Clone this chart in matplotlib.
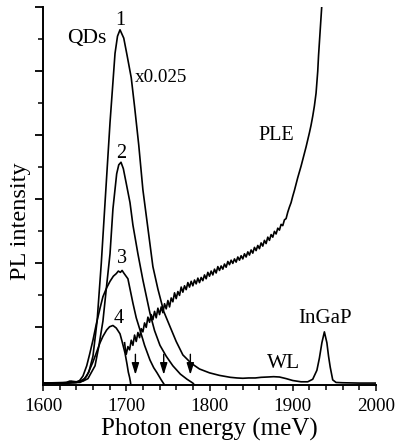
import matplotlib
matplotlib.use("Agg")
import matplotlib.pyplot as plt
from matplotlib.ticker import FixedLocator, MultipleLocator, NullFormatter

plt.rcParams['font.family'] = ['Liberation Serif', 'DejaVu Serif']

# ---- data (photon energy in meV, PL intensity in arb. units) ----
c1_E = [1600, 1620, 1630, 1634, 1640, 1646, 1650, 1655, 1660, 1665, 1670, 1675, 1680.5, 1686.5,
        1689.5, 1692.5, 1697, 1701, 1706, 1710, 1715, 1720, 1725, 1732, 1738, 1745, 1752, 1760,
        1768, 1778, 1788, 1800, 1812, 1825, 1833, 1840, 1847, 1855, 1862, 1870, 1877, 1884, 1892,
        1900, 1910, 1918, 1924, 1929, 1932, 1935, 1938, 1941, 1943, 1945, 1948, 1952, 1960, 1980, 2000]
c1_I = [0.03, 0.03, 0.04, 0.06, 0.05, 0.07, 0.10, 0.20, 0.45, 1.00, 1.90, 2.95, 4.10, 5.18,
        5.45, 5.55, 5.42, 5.15, 4.80, 4.35, 3.75, 3.05, 2.55, 1.85, 1.50, 1.15, 0.93, 0.68,
        0.47, 0.34, 0.25, 0.19, 0.15, 0.12, 0.11, 0.105, 0.11, 0.11, 0.12, 0.125, 0.13, 0.125, 0.10,
        0.07, 0.05, 0.05, 0.09, 0.23, 0.42, 0.66, 0.83, 0.66, 0.45, 0.28, 0.08, 0.04, 0.035, 0.03, 0.03]

c2_E = [1600, 1630, 1640, 1648, 1654, 1662.5, 1667, 1672, 1676, 1680.5, 1684, 1688.5, 1691,
        1693.7, 1696.5, 1700, 1704.5, 1708, 1714, 1720, 1728.5, 1734, 1740.5, 1748, 1756, 1765,
        1773, 1780, 1782]
c2_I = [0.03, 0.03, 0.04, 0.06, 0.10, 0.30, 0.60, 1.00, 1.50, 2.05, 2.75, 3.30, 3.44,
        3.48, 3.38, 3.15, 2.85, 2.50, 2.05, 1.64, 1.12, 0.85, 0.62, 0.45, 0.30, 0.17,
        0.09, 0.03, 0.0]

c3_E = [1600, 1630, 1640, 1644, 1648, 1652.5, 1656, 1660, 1664, 1668.5, 1672, 1676.5, 1680.5,
        1684.5, 1688, 1690.5, 1693, 1695, 1697, 1702, 1708, 1712, 1716.5, 1722, 1728.5, 1733,
        1737, 1742, 1745, 1746]
c3_I = [0.03, 0.03, 0.04, 0.07, 0.14, 0.30, 0.48, 0.70, 0.95, 1.20, 1.38, 1.52, 1.62,
        1.70, 1.74, 1.78, 1.76, 1.79, 1.75, 1.66, 1.28, 1.05, 0.86, 0.62, 0.39, 0.27,
        0.19, 0.08, 0.02, 0.0]

c4_E = [1600, 1628, 1632, 1637, 1644.4, 1648, 1652.5, 1656, 1660, 1664, 1668.5, 1672, 1676.5,
        1680, 1684, 1688, 1692.5, 1695, 1698.5, 1701, 1702.5, 1704, 1705, 1705.5]
c4_I = [0.03, 0.04, 0.06, 0.04, 0.04, 0.07, 0.14, 0.24, 0.36, 0.50, 0.66, 0.76, 0.86,
        0.91, 0.93, 0.89, 0.80, 0.68, 0.50, 0.32, 0.20, 0.12, 0.05, 0.0]

ple_E = [1698, 1699, 1700, 1702, 1704, 1706, 1708, 1710, 1712, 1714, 1716, 1718, 1720, 1722,
         1724, 1726, 1728, 1730, 1732, 1734, 1736, 1738, 1740, 1742, 1744, 1746, 1748, 1750,
         1752, 1754, 1756, 1758, 1760, 1762, 1764, 1766, 1768, 1770, 1772, 1774, 1776, 1778,
         1780, 1782, 1784, 1786, 1788, 1790, 1792, 1794, 1796, 1798, 1800, 1802, 1804, 1806,
         1808, 1810, 1812, 1814, 1816, 1818, 1820, 1822, 1824, 1826, 1828, 1830, 1832, 1834,
         1836, 1838, 1840, 1842, 1844, 1846, 1848, 1850, 1852, 1854, 1856, 1858, 1860, 1862,
         1864, 1866, 1868, 1870, 1872, 1874, 1876, 1878, 1880, 1882, 1884, 1886, 1888, 1890,
         1892, 1894, 1896, 1898, 1900, 1902, 1904, 1906, 1908, 1910, 1912, 1914, 1916, 1918,
         1920, 1922, 1924, 1926, 1928, 1930, 1931, 1932, 1933, 1934, 1935, 1936]
ple_I = [0.66, 0.55, 0.48, 0.60, 0.55, 0.70, 0.62, 0.78, 0.68, 0.82, 0.74, 0.88, 0.83, 0.97,
         0.90, 1.06, 0.98, 1.10, 1.02, 1.15, 1.05, 1.20, 1.10, 1.22, 1.13, 1.27, 1.19, 1.32,
         1.22, 1.36, 1.30, 1.44, 1.35, 1.46, 1.40, 1.53, 1.45, 1.55, 1.49, 1.60, 1.53, 1.62,
         1.55, 1.64, 1.58, 1.67, 1.60, 1.68, 1.63, 1.72, 1.66, 1.76, 1.70, 1.78, 1.72, 1.81,
         1.75, 1.85, 1.79, 1.86, 1.81, 1.89, 1.84, 1.93, 1.88, 1.95, 1.90, 1.97, 1.92, 2.00,
         1.95, 2.02, 1.97, 2.05, 2.00, 2.08, 2.03, 2.11, 2.06, 2.15, 2.10, 2.18, 2.13, 2.22,
         2.17, 2.26, 2.21, 2.31, 2.26, 2.35, 2.31, 2.40, 2.36, 2.45, 2.42, 2.51, 2.49, 2.58,
         2.60, 2.70, 2.78, 2.85, 2.95, 3.04, 3.14, 3.24, 3.33, 3.42, 3.52, 3.62, 3.72, 3.83,
         3.94, 4.06, 4.20, 4.36, 4.56, 4.90, 5.15, 5.35, 5.55, 5.75, 5.95, 6.20]

arrow_E = [1711, 1745, 1777]

x_ticks = [1600, 1700, 1800, 1900, 2000]

# ---- figure ----
fig = plt.figure(figsize=(3.96, 4.45), dpi=100)
ax = fig.add_axes([43 / 396, 60 / 445, 333 / 396, 378 / 445])

lw = 1.2
for E, I in [(c1_E, c1_I), (c2_E, c2_I), (c3_E, c3_I), (c4_E, c4_I), (ple_E, ple_I)]:
    ax.plot(E, I, color='black', lw=lw, solid_joinstyle='round')

ytop = 5.906
ax.set_xlim(1600, 2000)
ax.set_ylim(0, ytop)

for s in ['top', 'right']:
    ax.spines[s].set_visible(False)
for s in ['left', 'bottom']:
    ax.spines[s].set_linewidth(1.4)

ax.xaxis.set_major_locator(FixedLocator(x_ticks))
ax.xaxis.set_minor_locator(MultipleLocator(20))
ax.set_xticklabels([str(t) for t in x_ticks], fontsize=13.8)
ax.yaxis.set_major_locator(FixedLocator([ytop - k for k in range(6)]))
ax.yaxis.set_minor_locator(FixedLocator([ytop - 0.5 - k for k in range(6)]))
ax.yaxis.set_major_formatter(NullFormatter())
ax.tick_params(axis='x', which='major', direction='out', length=4.5, width=1.1, pad=5)
ax.tick_params(axis='x', which='minor', direction='out', length=3.6, width=1.1)
ax.tick_params(axis='y', which='major', direction='out', length=5.8, width=1.3)
ax.tick_params(axis='y', which='minor', direction='out', length=3.6, width=1.1)

ax.set_xlabel('Photon energy (meV)', fontsize=18, labelpad=2)
ax.set_ylabel('PL intensity', fontsize=17.5)
ax.yaxis.set_label_coords(-0.036, 0.434)

tk = dict(ha='center', va='baseline', color='black')
ax.text(1693.3, 5.625, '1', fontsize=14.5, **tk)
ax.text(1694.5, 3.55, '2', fontsize=14.5, **tk)
ax.text(1695.3, 1.906, '3', fontsize=14.5, **tk)
ax.text(1691.3, 0.97, '4', fontsize=14.5, **tk)
ax.text(1652.9, 5.34, 'QDs', fontsize=15.5, **tk)
ax.text(1742.3, 4.73, 'x0.025', fontsize=13.8, **tk)
ax.text(1879.9, 3.83, 'PLE', fontsize=14.5, **tk)
ax.text(1888.9, 0.266, 'WL', fontsize=15.4, **tk)
ax.text(1938.7, 0.97, 'InGaP', fontsize=15, **tk)

for E in arrow_E:
    ax.annotate('', xy=(E, 0.16), xytext=(E, 0.48),
                arrowprops=dict(arrowstyle='-|>,head_length=0.7,head_width=0.22',
                                color='black', lw=1.0, mutation_scale=10,
                                shrinkA=0, shrinkB=0))

fig.savefig('out.png', dpi=100)
